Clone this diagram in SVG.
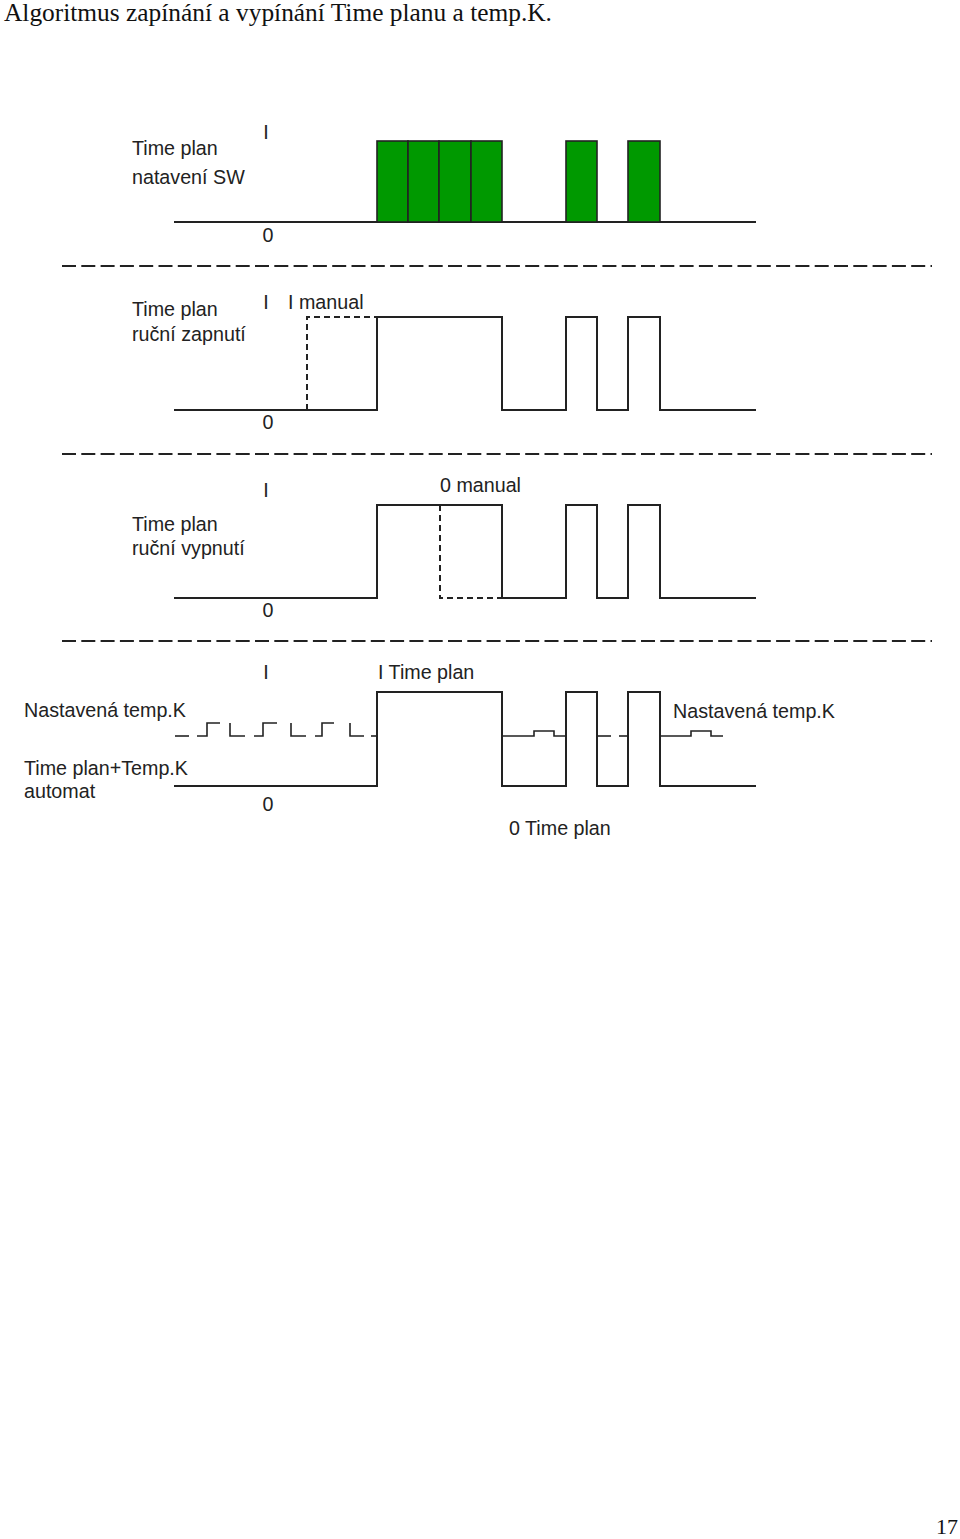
<svg xmlns="http://www.w3.org/2000/svg" width="960" height="1539" viewBox="0 0 960 1539">
<style>
.t{font-family:"Liberation Serif","Times New Roman",serif;fill:#111}
.l{font-family:"Liberation Sans",Arial,sans-serif;font-size:19.7px;fill:#222}
.m{text-anchor:middle}
.sig{fill:none;stroke:#222;stroke-width:2}
.dsh{fill:none;stroke:#222;stroke-width:2;stroke-dasharray:6 4}
.sep{fill:none;stroke:#222;stroke-width:2;stroke-dasharray:14 5.3}
.tk{fill:none;stroke:#222;stroke-width:1.6}
.g{fill:#009900;stroke:#222;stroke-width:1.6}
</style>
<rect width="960" height="1539" fill="#fff"/>
<text class="t" x="4" y="21" font-size="25.4">Algoritmus zapínání a vypínání Time planu a temp.K.</text>

<g id="separators">
<line class="sep" x1="62" y1="266" x2="932" y2="266"/>
<line class="sep" x1="62" y1="454" x2="932" y2="454"/>
<line class="sep" x1="62" y1="641" x2="932" y2="641"/>
</g>

<g id="row1">
<text class="l" x="132" y="155">Time plan</text>
<text class="l" x="132" y="184">natavení SW</text>
<text class="l m" x="266" y="139">I</text>
<text class="l m" x="268" y="242">0</text>
<line class="sig" x1="174" y1="222" x2="756" y2="222"/>
<rect class="g" x="377" y="141" width="31" height="81"/>
<rect class="g" x="408" y="141" width="31" height="81"/>
<rect class="g" x="439" y="141" width="32" height="81"/>
<rect class="g" x="471" y="141" width="31" height="81"/>
<rect class="g" x="566" y="141" width="31" height="81"/>
<rect class="g" x="628" y="141" width="32" height="81"/>
</g>

<g id="row2">
<text class="l" x="132" y="316">Time plan</text>
<text class="l" x="132" y="341">ruční zapnutí</text>
<text class="l m" x="266" y="309">I</text>
<text class="l" x="288" y="309">I manual</text>
<text class="l m" x="268" y="429">0</text>
<polyline class="sig" points="174,410 377,410 377,317 502,317 502,410 566,410 566,317 597,317 597,410 628,410 628,317 660,317 660,410 756,410"/>
<polyline class="dsh" points="307,410 307,317 377,317"/>
</g>

<g id="row3">
<text class="l" x="132" y="531">Time plan</text>
<text class="l" x="132" y="555">ruční vypnutí</text>
<text class="l m" x="266" y="497">I</text>
<text class="l" x="440" y="492">0 manual</text>
<text class="l m" x="268" y="617">0</text>
<polyline class="sig" points="174,598 377,598 377,505 502,505 502,598 566,598 566,505 597,505 597,598 628,598 628,505 660,505 660,598 756,598"/>
<polyline class="dsh" points="440,505 440,598 502,598"/>
</g>

<g id="row4">
<text class="l" x="24" y="717">Nastavená temp.K</text>
<text class="l" x="24" y="775">Time plan+Temp.K</text>
<text class="l" x="24" y="798">automat</text>
<text class="l m" x="266" y="679">I</text>
<text class="l" x="378" y="679">I Time plan</text>
<text class="l m" x="268" y="811">0</text>
<text class="l" x="673" y="718">Nastavená temp.K</text>
<text class="l" x="509" y="835">0 Time plan</text>
<polyline class="sig" points="174,786 377,786 377,692 502,692 502,786 566,786 566,692 597,692 597,786 628,786 628,692 660,692 660,786 756,786"/>
<g id="tempK">
<polyline class="tk" points="175,736 189,736"/>
<polyline class="tk" points="197,736 207,736 207,723 220,723"/>
<polyline class="tk" points="230,723 230,736 245,736"/>
<polyline class="tk" points="254,736 263,736 263,723 277,723"/>
<polyline class="tk" points="291,723 291,736 306,736"/>
<polyline class="tk" points="315,736 322,736 322,723 334,723"/>
<polyline class="tk" points="350,723 350,736 364,736"/>
<polyline class="tk" points="371,736 377,736"/>
<polyline class="tk" points="502,736 534,736 534,731 554,731 554,736 566,736"/>
<polyline class="tk" points="597,736 611,736"/>
<polyline class="tk" points="619,736 628,736"/>
<polyline class="tk" points="660,736 691,736 691,731 711,731 711,736 723,736"/>
</g>
</g>

<text class="t" x="958" y="1534" font-size="22" text-anchor="end">17</text>
</svg>
